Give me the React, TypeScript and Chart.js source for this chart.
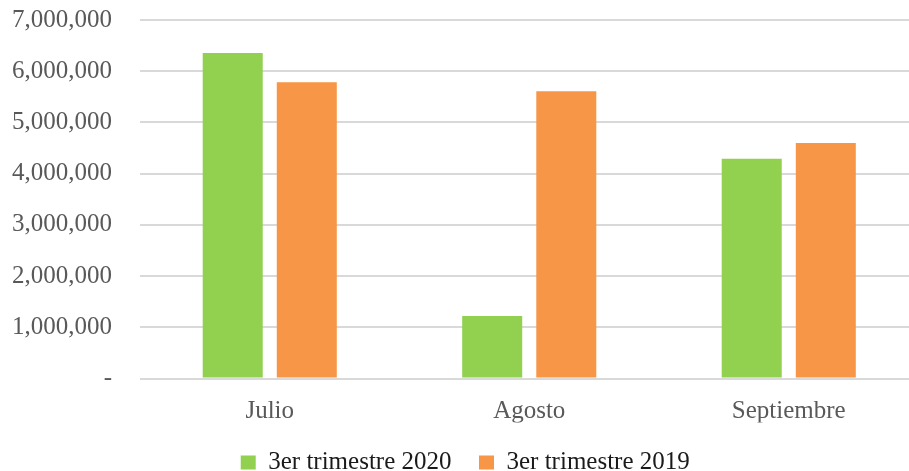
import React, { useEffect, useRef } from "react";
import { Chart, registerables } from "chart.js";

Chart.register(...registerables);

const categories = ["Julio", "Agosto", "Septiembre"];
const series2020 = [6355000, 1220000, 4290000];
const series2019 = [5785000, 5610000, 4600000];
const seriesLabels = ["3er trimestre 2020", "3er trimestre 2019"];
const yMin = 0;
const yMax = 7000000;
const yStep = 1000000;

const FONT = "'Liberation Serif', 'DejaVu Serif', serif";

export default function App() {
  const ref = useRef<HTMLCanvasElement | null>(null);

  useEffect(() => {
    if (!ref.current) return;
    const chart = new Chart(ref.current, {
      type: "bar",
      data: {
        labels: categories,
        datasets: [
          {
            label: seriesLabels[0],
            data: series2020,
            backgroundColor: "#92D050",
            categoryPercentage: 0.571,
            barPercentage: 0.81,
          },
          {
            label: seriesLabels[1],
            data: series2019,
            backgroundColor: "#F79646",
            categoryPercentage: 0.571,
            barPercentage: 0.81,
          },
        ],
      },
      options: {
        animation: false,
        responsive: true,
        maintainAspectRatio: false,
        layout: { padding: { left: 12, right: 21.5, top: 20, bottom: 0 } },
        plugins: {
          tooltip: { enabled: false },
          legend: {
            position: "bottom",
            labels: {
              boxWidth: 15,
              boxHeight: 14,
              padding: 27.5,
              color: "#1a1a1a",
              font: { family: FONT, size: 25 },
            },
          },
        },
        scales: {
          x: {
            grid: { display: false, drawTicks: false },
            border: { display: false },
            ticks: {
              padding: 17.5,
              color: "#595959",
              font: { family: FONT, size: 25 },
            },
            afterFit: (scale: any) => {
              scale.height = 44;
            },
          },
          y: {
            min: yMin,
            max: yMax,
            border: { display: false },
            grid: { color: "#d9d9d9", lineWidth: 2, drawTicks: false },
            ticks: {
              stepSize: yStep,
              padding: 28,
              color: "#595959",
              font: { family: FONT, size: 25 },
              callback: (v: any) =>
                Number(v) === 0 ? "-" : Number(v).toLocaleString("en-US"),
            },
            afterFit: (scale: any) => {
              scale.width = 128;
              scale.paddingTop = 15;
              scale.paddingBottom = 15;
            },
          },
        },
      },
    });
    return () => chart.destroy();
  }, []);

  return (
    <div
      style={{
        position: "fixed",
        left: 0,
        top: 0,
        width: 909,
        height: 471,
        overflow: "hidden",
        background: "#fff",
      }}
    >
      <div style={{ position: "relative", width: 940, height: 485 }}>
        <canvas ref={ref} />
      </div>
    </div>
  );
}
